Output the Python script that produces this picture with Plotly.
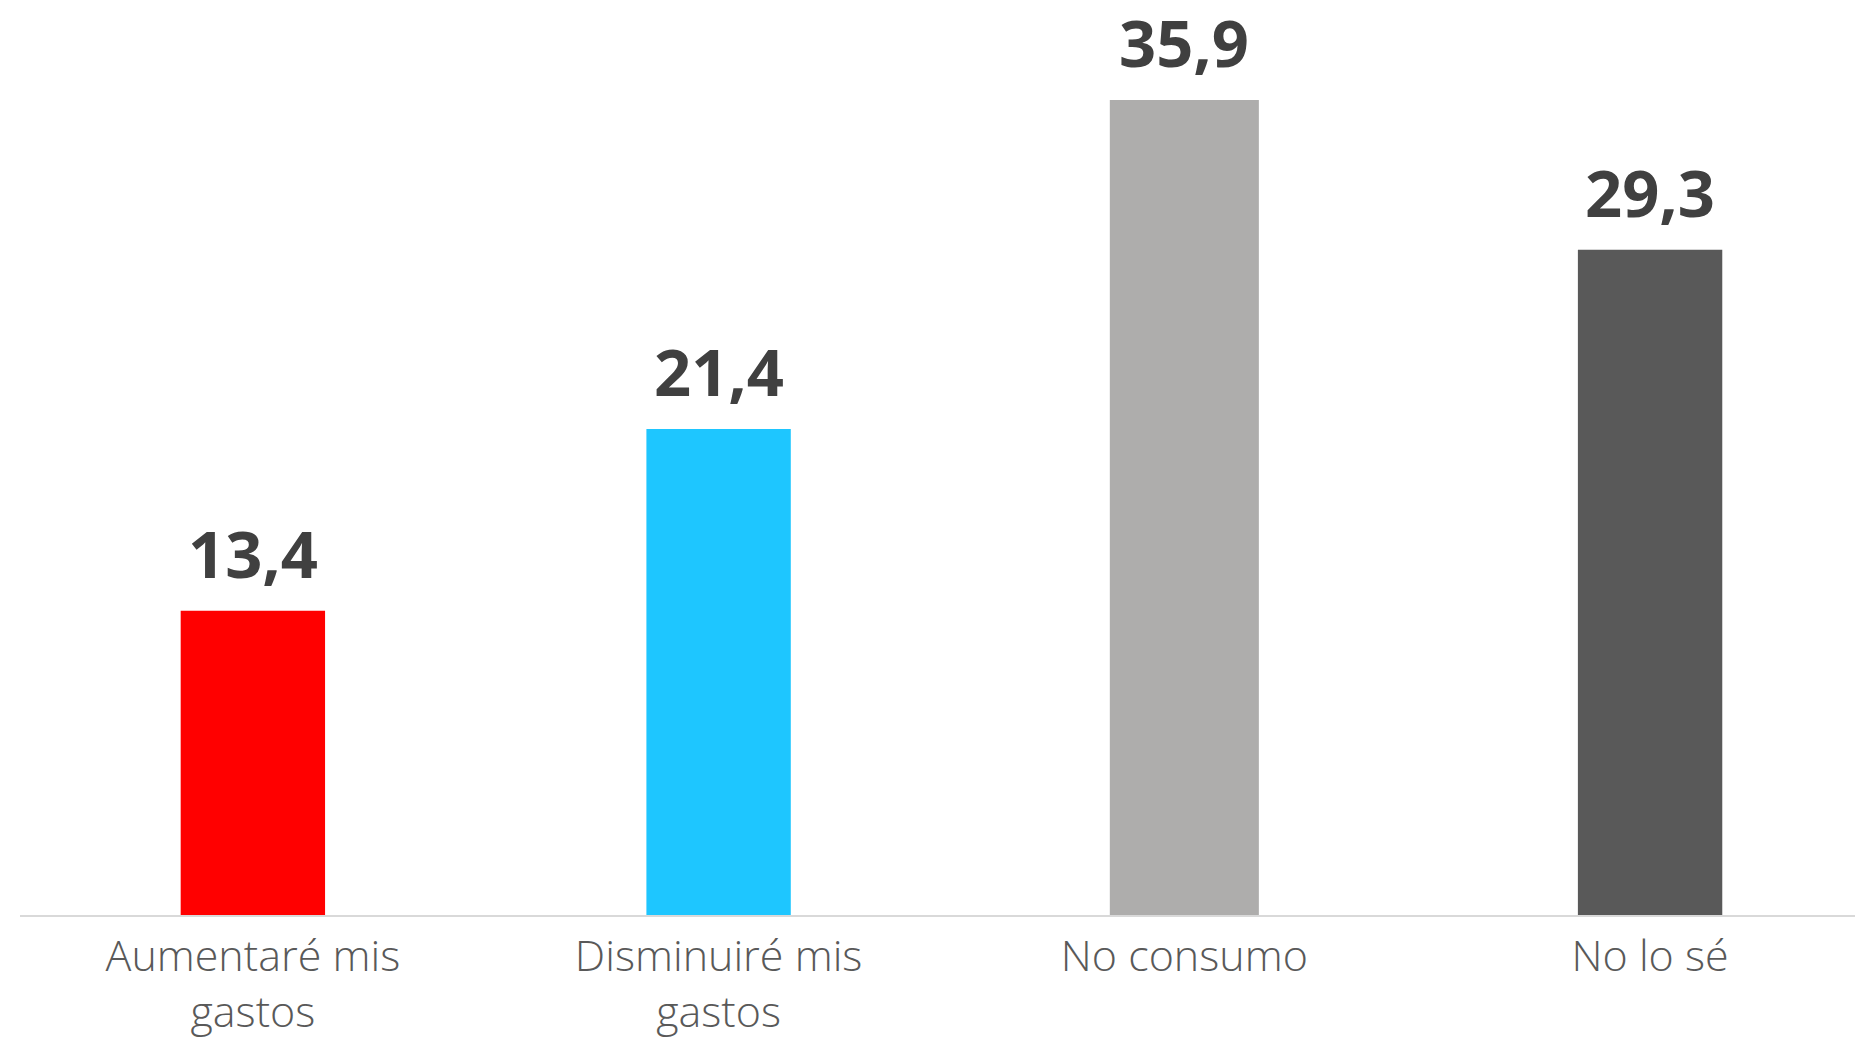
import plotly.graph_objects as go

# Survey answers and their shares (%)
categories = ["Aumentaré mis<br>gastos", "Disminuiré mis<br>gastos", "No consumo", "No lo sé"]
values = [13.4, 21.4, 35.9, 29.3]
bar_colors = ["#FF0000", "#1EC6FF", "#AEADAC", "#595959"]
bar_widths = [0.31, 0.31, 0.32, 0.31]

fig = go.Figure(
    go.Bar(
        x=list(range(len(categories))),
        y=values,
        marker=dict(color=bar_colors, line=dict(width=0)),
        width=bar_widths,
        hoverinfo="skip",
    )
)

# value labels above each bar, decimal comma
for i, v in enumerate(values):
    fig.add_annotation(
        x=i, y=v, text=f"{v:.1f}".replace(".", ","),
        yanchor="bottom", xanchor="center", showarrow=False, yshift=12,
        font=dict(family="Open Sans", size=65, color="#404040", weight="bold"),
    )

fig.update_layout(
    width=1855, height=1042,
    margin=dict(l=20, r=0, t=0, b=127),
    plot_bgcolor="white", paper_bgcolor="white",
    showlegend=False,
)
fig.update_xaxes(
    range=[-0.5, 3.44], automargin=False,
    tickmode="array", tickvals=list(range(len(categories))), ticktext=categories,
    tickfont=dict(family="Open Sans", size=43, color="#595959", weight=300),
    ticklabelstandoff=2,
    showline=True, linecolor="#D9D9D9", linewidth=2,
    ticks="", showgrid=False, zeroline=False,
)
fig.update_yaxes(
    range=[0, 40.3], visible=False, showgrid=False, zeroline=False, automargin=False,
)

fig.write_html("out.html")
